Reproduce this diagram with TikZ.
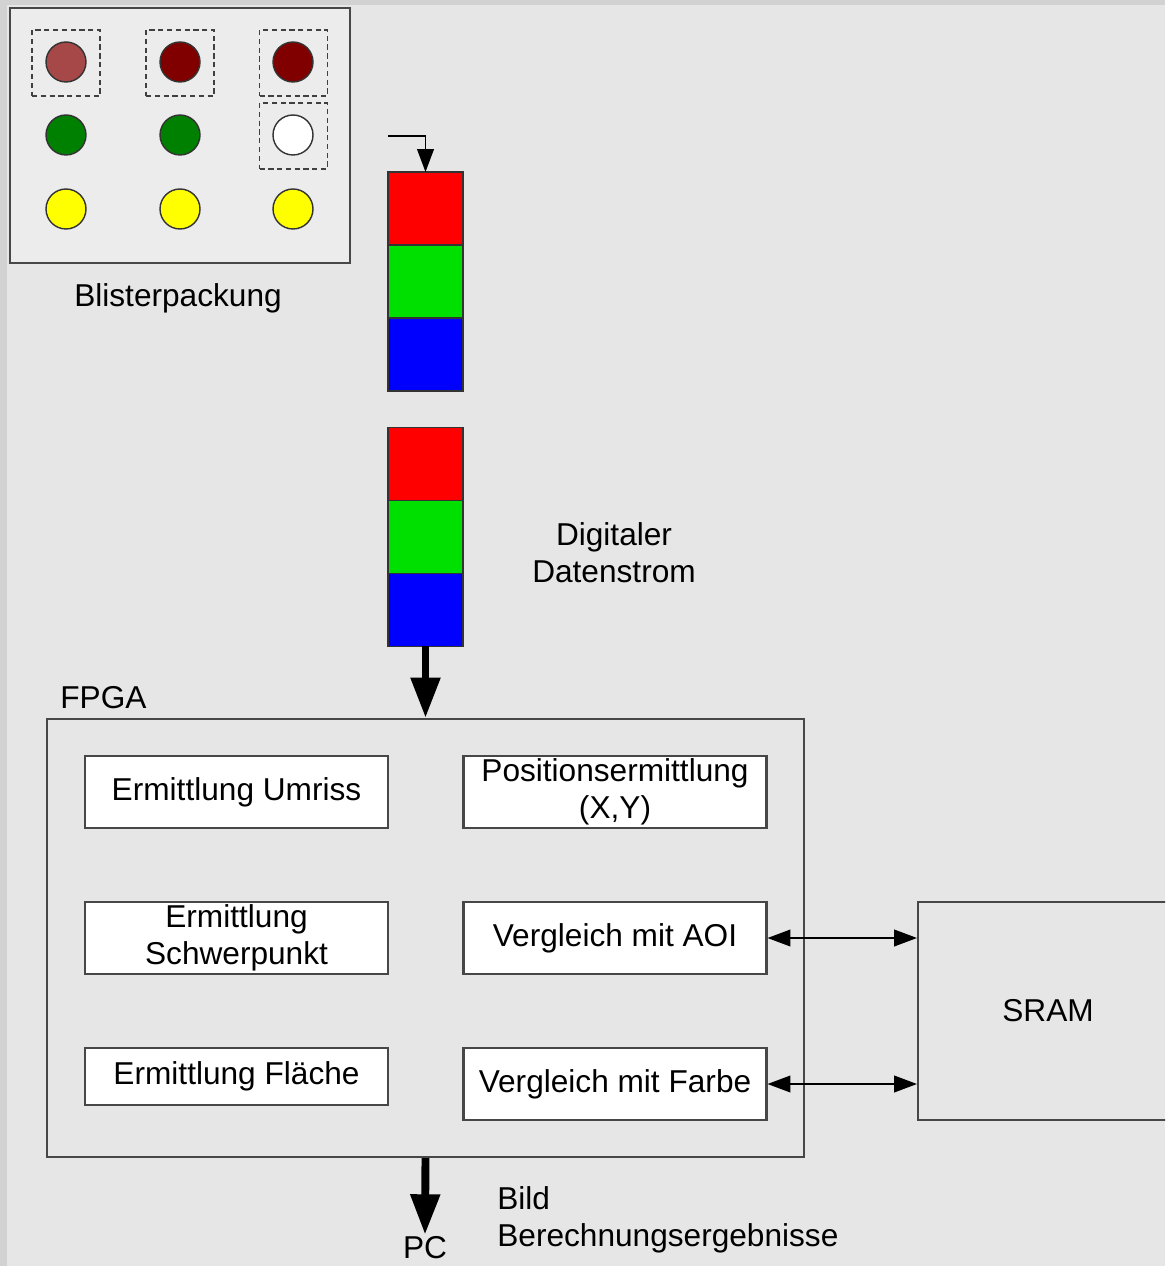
\documentclass[tikz,border=0pt]{standalone}
\usepackage{fontspec}
\setmainfont{Liberation Sans}
\usetikzlibrary{arrows.meta, positioning}

\definecolor{bg}{HTML}{E6E6E6}
\definecolor{rim}{HTML}{D2D2D2}
\definecolor{pale}{HTML}{ECECEC}
\definecolor{rose}{HTML}{A64848}
\definecolor{wine}{HTML}{800000}
\definecolor{leaf}{HTML}{008000}
\definecolor{lemon}{HTML}{FFFF00}
\definecolor{pxred}{HTML}{FF0000}
\definecolor{pxgreen}{HTML}{00E000}
\definecolor{pxblue}{HTML}{0000FF}

\begin{document}
\begin{tikzpicture}[
  x=0.02cm, y=-0.02cm,
  font=\fontsize{18}{21}\selectfont,
  frame/.style={draw=black!72, line width=1.2pt, inner sep=0pt},
  task/.style={frame, fill=white, minimum width=6.06cm, minimum height=1.44cm, align=center},
  pill/.style={circle, draw=black!80, line width=0.8pt, minimum size=0.8cm, inner sep=0pt},
  pick/.style={draw=black!75, densely dashed, line width=1pt, minimum width=1.36cm, minimum height=1.32cm},
  pixel/.style={draw=black!80, line width=1pt, outer sep=0pt, minimum width=1.5cm, minimum height=1.46cm},
  thin/.style={-{Triangle[length=13pt, width=9.5pt]}, line width=0.9pt},
  both/.style={{Triangle[length=13pt, width=9.5pt]}-{Triangle[length=13pt, width=9.5pt]}, line width=0.9pt},
  fat/.style={-{Triangle[length=23pt, width=16pt]}, line width=4.5pt},
]
  \useasboundingbox (0,0) rectangle (1165,1266);
  \clip (0,0) rectangle (1165,1266);
  \fill[bg] (0,0) rectangle (1165,1266);
  \fill[rim] (0,0) rectangle (7,1266);
  \fill[rim] (0,0) rectangle (1165,5);

  % Blisterpackung
  \node[frame, fill=pale, minimum width=6.8cm, minimum height=5.1cm] (blister) at (180,135.5) {};
  \node[pick] (sel1) at (66,63) {};
  \node[pick] (sel2) at (180,63) {};
  \node[pick] (sel3) at (293.5,63) {};
  \node[pick] (sel4) at (293.5,136) {};

  \node[pill, fill=rose]  (p11) at (66,62) {};
  \node[pill, fill=wine]  (p12) at (180,62) {};
  \node[pill, fill=wine]  (p13) at (293,62) {};
  \node[pill, fill=leaf]  (p21) at (66,135) {};
  \node[pill, fill=leaf]  (p22) at (180,135) {};
  \node[pill, fill=white] (p23) at (293,135) {};
  \node[pill, fill=lemon] (p31) at (66,209) {};
  \node[pill, fill=lemon] (p32) at (180,209) {};
  \node[pill, fill=lemon] (p33) at (293,209) {};

  \node (blistertxt) at (178,298) {Blisterpackung};

  % Pixelstrom
  \node[pixel, fill=pxred] (r1) at (425.5,208.5) {};
  \node[pixel, fill=pxgreen, below=0pt of r1] (g1) {};
  \node[pixel, fill=pxblue, below=0pt of g1] (b1) {};

  \node[pixel, fill=pxred] (r2) at (425.5,464) {};
  \node[pixel, fill=pxgreen, below=0pt of r2] (g2) {};
  \node[pixel, fill=pxblue, below=0pt of g2] (b2) {};

  \coordinate (feed) at (388,136);
  \draw[thin] (feed) -| (r1.north);

  \node[align=center] (stream) at (614,553) {Digitaler\\Datenstrom};

  % FPGA
  \node[frame, minimum width=15.14cm, minimum height=8.76cm] (fpga) at (425.5,938) {};
  \node[anchor=west, inner sep=0pt] (fpgatxt) at (60,698) {FPGA};

  \node[task] (umriss) at (236.5,792) {Ermittlung Umriss};
  \node[task] (schwer) at (236.5,938) {Ermittlung\\Schwerpunkt};
  \node[task, minimum height=1.14cm] (flaeche) at (236.5,1076.5) {Ermittlung Fläche};
  \node[task] (pos) at (615,792) {Positionsermittlung\\(X,Y)};
  \node[task] (aoi) at (615,938) {Vergleich mit AOI};
  \node[task] (farbe) at (615,1084) {Vergleich mit Farbe};

  \draw[fat] (b2.south) -- (fpga.north);

  % SRAM
  \node[frame, minimum width=5.2cm, minimum height=4.36cm] (sram) at (1048,1011) {SRAM};
  \draw[both] (aoi.east) -- (aoi.east -| sram.west);
  \draw[both] (farbe.east) -- (farbe.east -| sram.west);

  % Ausgabe
  \node[inner sep=1pt] (pc) at (425,1248) {PC};
  \draw[fat] (fpga.south) -- (pc.north);
  \node[anchor=west, align=left, inner sep=0pt] (result) at (497,1220) {Bild\\Berechnungsergebnisse};
\end{tikzpicture}
\end{document}
